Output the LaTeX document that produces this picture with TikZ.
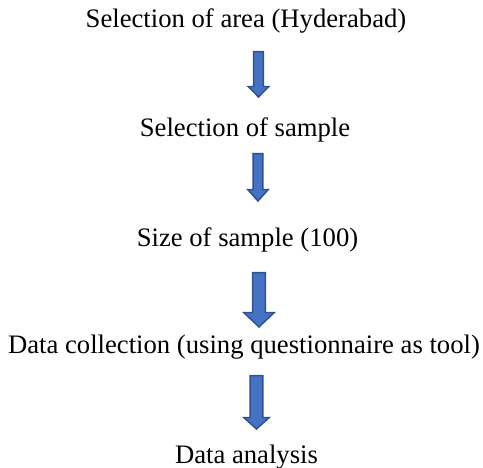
\documentclass[tikz,border=0pt]{standalone}
\usepackage{fontspec}
\setmainfont{Liberation Serif}
\usetikzlibrary{calc}
\definecolor{arrowFill}{HTML}{4472C4}
\definecolor{arrowLine}{HTML}{2F528F}
%% Block arrow from (#1) down to the tip (#2).
%% #3 shaft half width, #4 head half width, #5 head length.
\newcommand{\blockArrow}[5]{%%
  \draw[arrowStyle] ($(#1)+(-#3,0)$) -- ($(#1)+(#3,0)$)
    -- ($(#2)+(#3,-#5)$) -- ($(#2)+(#4,-#5)$) -- (#2)
    -- ($(#2)+(-#4,-#5)$) -- ($(#2)+(-#3,-#5)$) -- cycle;
}

\begin{document}
\begin{tikzpicture}[%%
  x=0.75pt,y=-0.75pt,%%
  labelStyle/.style={anchor=base,inner sep=0pt,font=\fontsize{20}{24}\selectfont},%%
  arrowStyle/.style={fill=arrowFill,draw=arrowLine,line width=1.1pt,line join=miter}
]
\useasboundingbox (0,0) rectangle (483,468);
%%
%% The steps.
\node[labelStyle] (area) at (246,27.7) {Selection of area (Hyderabad)};
\node[labelStyle] (sample) at (245,136.7) {Selection of sample};
\node[labelStyle] (size) at (247.5,246.7) {Size of sample (100)};
\node[labelStyle] (collect) at (244,353) {Data collection (using questionnaire as tool)};
\node[labelStyle] (analysis) at (246.5,463) {Data analysis};
%%
%% Arrow ends.
\coordinate (a1top) at (258.5,51.7);
\coordinate (a1tip) at (258.5,97);
\coordinate (a2top) at (258,153.7);
\coordinate (a2tip) at (258,201);
\coordinate (a3top) at (259,272.7);
\coordinate (a3tip) at (259,327);
\coordinate (a4top) at (256.5,375.7);
\coordinate (a4tip) at (256.5,429);
%%
%% The arrows between the steps.
\blockArrow{a1top}{a1tip}{4.8}{10.3}{10.5}
\blockArrow{a2top}{a2tip}{4.8}{10.3}{11.5}
\blockArrow{a3top}{a3tip}{6.3}{15.3}{14.5}
\blockArrow{a4top}{a4tip}{6.3}{12.8}{11.5}
\end{tikzpicture}
\end{document}
